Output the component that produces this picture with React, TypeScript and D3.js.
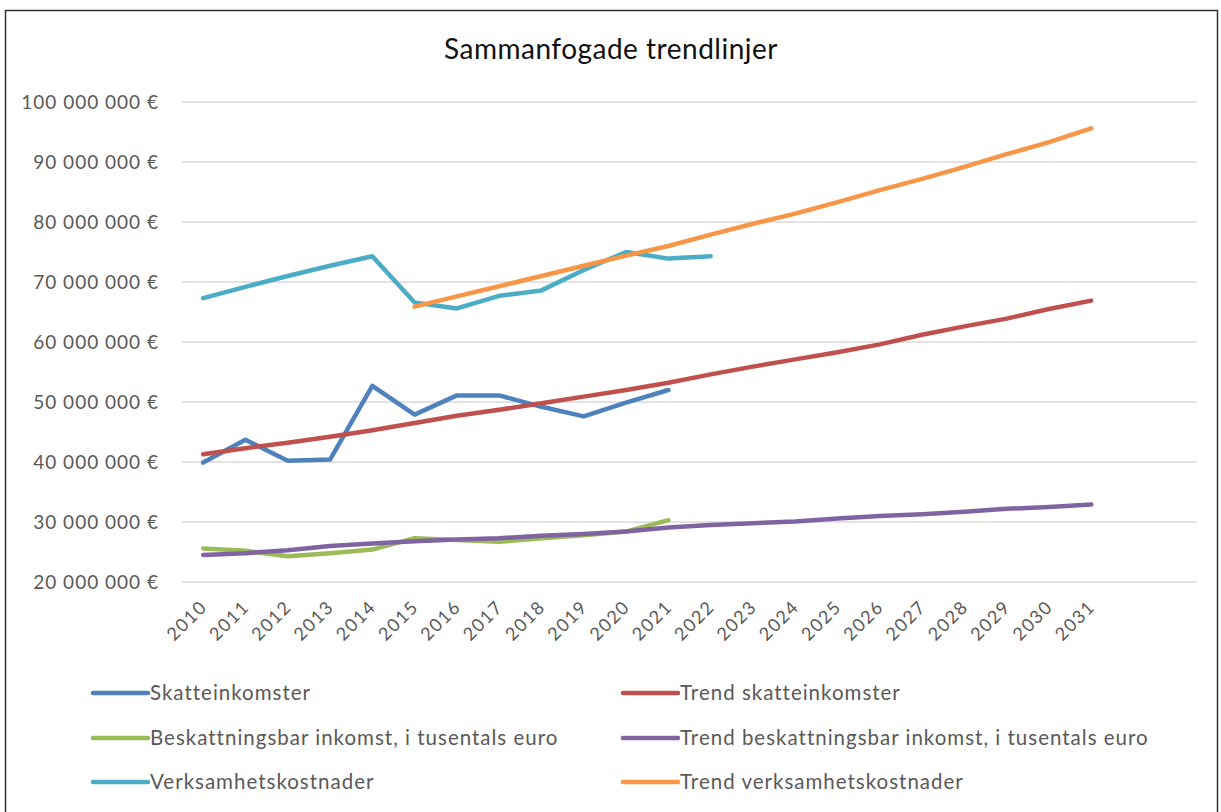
import * as d3 from 'd3';

const years = [
  '2010', '2011', '2012', '2013', '2014', '2015', '2016', '2017', '2018', '2019', '2020',
  '2021', '2022', '2023', '2024', '2025', '2026', '2027', '2028', '2029', '2030', '2031',
];

// values in millions of euro, null = no point
const skatteinkomster = [39.9, 43.7, 40.2, 40.4, 52.7, 47.9, 51.1, 51.1, 49.2, 47.6, 49.9, 52.0];
const trendSkatt = [
  41.3, 42.3, 43.2, 44.2, 45.3, 46.5, 47.7, 48.7, 49.8, 50.9, 52.0,
  53.2, 54.6, 55.9, 57.1, 58.3, 59.6, 61.2, 62.6, 63.9, 65.5, 66.9,
];
const beskattningsbar = [25.6, 25.2, 24.3, 24.8, 25.4, 27.3, 27.0, 26.7, 27.3, 27.8, 28.4, 30.3];
const trendBesk = [
  24.5, 24.8, 25.3, 26.0, 26.4, 26.8, 27.1, 27.3, 27.7, 28.0, 28.4,
  29.1, 29.5, 29.8, 30.1, 30.6, 31.0, 31.3, 31.7, 32.2, 32.5, 32.9,
];
const verksamhet = [67.3, 69.2, 71.0, 72.7, 74.3, 66.6, 65.6, 67.7, 68.6, 72.0, 75.0, 73.9, 74.3];
const trendVerks = [
  null, null, null, null, null, 65.9, 67.6, 69.3, 71.0, 72.7, 74.4,
  76.0, 77.9, 79.7, 81.4, 83.3, 85.3, 87.2, 89.2, 91.3, 93.3, 95.6,
];

const yTicks = [20, 30, 40, 50, 60, 70, 80, 90, 100];

const seriesList = [
  { name: 'Skatteinkomster', values: skatteinkomster, color: '#4F81BD' },
  { name: 'Trend skatteinkomster', values: trendSkatt, color: '#C0504D' },
  { name: 'Beskattningsbar inkomst, i tusentals euro', values: beskattningsbar, color: '#9BBB59' },
  { name: 'Trend beskattningsbar inkomst, i tusentals euro', values: trendBesk, color: '#8064A2' },
  { name: 'Verksamhetskostnader', values: verksamhet, color: '#4BACC6' },
  { name: 'Trend verksamhetskostnader', values: trendVerks, color: '#F79646' },
];

// draw order as in the picture
const drawOrder = [4, 5, 0, 1, 2, 3];

const font = 'Lato, "Open Sans", sans-serif';
const labelColor = '#595959';

export default function App() {
  const width = 1221;
  const height = 812;
  const plot = { left: 182, right: 1197, top: 102, bottom: 582 };

  // two empty slots after 2031 on the category axis
  const slots = d3.range(years.length + 2);
  const x = d3.scaleBand<number>().domain(slots).range([plot.left, plot.right]);
  const cx = (i: number) => x(i)! + x.bandwidth() / 2;
  const y = d3.scaleLinear().domain([20, 100]).range([plot.bottom, plot.top]);

  const fmt = (v: number) => d3.format(',')(v * 1e6).replace(/,/g, ' ') + ' €';

  const line = d3
    .line<number | null>()
    .defined((d) => d != null)
    .x((_, i) => cx(i))
    .y((d) => y(d as number));

  const legendCols = [93, 623];
  const legendRows = [693, 738, 782];

  return (
    <svg width={width} height={height} style={{ position: 'absolute', left: 0, top: 0, background: '#fff' }}>
      <rect x={5.5} y={10.5} width={1212} height={830} fill="#fff" stroke="#333" strokeWidth={1.5} />
      <text x={611} y={59} textAnchor="middle" fontFamily={font} fontSize={28} letterSpacing={0.5} fill="#111">
        Sammanfogade trendlinjer
      </text>

      {yTicks.map((t) => (
        <g key={t}>
          <line x1={plot.left} x2={plot.right} y1={y(t)} y2={y(t)} stroke="#d9d9d9" strokeWidth={1.5} />
          <text
            x={159}
            y={y(t)}
            dy="0.35em"
            textAnchor="end"
            fontFamily={font}
            fontSize={19}
            letterSpacing={1}
            fill={labelColor}
          >
            {fmt(t)}
          </text>
        </g>
      ))}

      {years.map((yr, i) => (
        <text
          key={yr}
          transform={`translate(${cx(i) + 5},${608}) rotate(-45)`}
          textAnchor="end"
          fontFamily={font}
          fontSize={18}
          letterSpacing={1.5}
          fill={labelColor}
        >
          {yr}
        </text>
      ))}

      {drawOrder.map((si) => {
        const s = seriesList[si];
        return (
          <path
            key={s.name}
            d={line(s.values) || ''}
            fill="none"
            stroke={s.color}
            strokeWidth={4.5}
            strokeLinejoin="round"
            strokeLinecap="round"
          />
        );
      })}

      {seriesList.map((s, i) => {
        const lx = legendCols[i % 2];
        const ly = legendRows[Math.floor(i / 2)];
        return (
          <g key={s.name}>
            <line x1={lx} x2={lx + 55} y1={ly} y2={ly} stroke={s.color} strokeWidth={4.5} strokeLinecap="round" />
            <text
              x={lx + 57}
              y={ly}
              dy="0.35em"
              fontFamily={font}
              fontSize={20.5}
              letterSpacing={1}
              fill={labelColor}
            >
              {s.name}
            </text>
          </g>
        );
      })}
    </svg>
  );
}
